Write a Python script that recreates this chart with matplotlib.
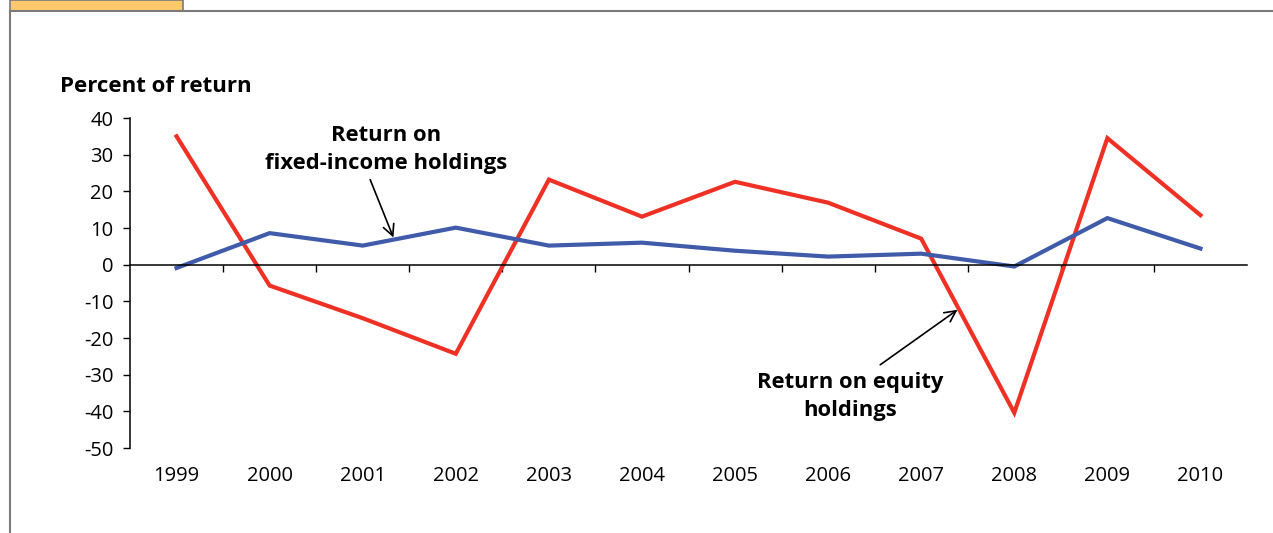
import matplotlib.pyplot as plt
import numpy as np
from matplotlib.patches import Rectangle
from matplotlib.lines import Line2D

plt.rcParams['font.family'] = ['Open Sans', 'DejaVu Sans']
plt.rcParams['axes.unicode_minus'] = False

years = ['1999', '2000', '2001', '2002', '2003', '2004',
         '2005', '2006', '2007', '2008', '2009', '2010']
equity = [35.0, -5.7, -14.6, -24.3, 23.2, 13.1, 22.6, 16.9, 7.1, -40.4, 34.5, 13.5]
fixed_income = [-0.9, 8.6, 5.2, 10.1, 5.2, 6.0, 3.8, 2.2, 3.0, -0.5, 12.7, 4.4]

W, H = 1273, 533
fig = plt.figure(figsize=(W / 100, H / 100), dpi=100)

# page frame and tab
fig.add_artist(Rectangle((10 / W, 1 - 11 / H), 173 / W, 11 / H, transform=fig.transFigure,
                         facecolor='#FFC96B', edgecolor='#7a7a7a', linewidth=1.2))
fig.add_artist(Line2D([10 / W, 1], [1 - 11 / H, 1 - 11 / H], transform=fig.transFigure,
                      color='#7a7a7a', linewidth=1.5))
fig.add_artist(Line2D([10 / W, 10 / W], [0, 1 - 11 / H], transform=fig.transFigure,
                      color='#7a7a7a', linewidth=1.5))

ax = fig.add_axes([130 / W, 1 - 448 / H, 1117 / W, 330 / H])
x = np.arange(len(years))
ax.plot(x, equity, color='#EE3124', linewidth=3.0, solid_joinstyle='miter')
ax.plot(x, fixed_income, color='#3F5BA9', linewidth=3.0, solid_joinstyle='miter')

ax.set_xlim(-0.5, len(years) - 0.5)
ax.set_ylim(-50, 40)
ax.set_yticks(np.arange(-50, 41, 10))
ax.tick_params(axis='y', direction='out', length=5, width=1, labelsize=14.5, pad=7)

for s in ['top', 'right']:
    ax.spines[s].set_visible(False)
ax.spines['left'].set_linewidth(1.1)
ax.spines['bottom'].set_position(('data', 0))
ax.spines['bottom'].set_linewidth(1.1)
ax.set_xticks(x)
ax.set_xticks(x[1:] - 0.5, minor=True)
ax.tick_params(axis='x', which='major', length=0, labelbottom=False)
ax.tick_params(axis='x', which='minor', direction='out', length=5, width=1)

sec = ax.secondary_xaxis('bottom')
sec.set_xticks(x, years)
sec.spines['bottom'].set_visible(False)
sec.tick_params(length=0, labelsize=14.5, pad=13)

fig.text(60 / W, 1 - 86 / H, 'Percent of return', fontsize=16, fontweight='bold',
         va='center', ha='left')

# callouts
arrow = dict(arrowstyle='->', color='black', lw=1.2, shrinkA=0, shrinkB=0, mutation_scale=20)
ax.text(2.25, 31.4, 'Return on\nfixed-income holdings', ha='center', va='center',
        fontsize=15.8, fontweight='bold', linespacing=1.4)
ax.annotate('', xy=(2.33, 7.4), xytext=(2.08, 23.2), arrowprops=arrow)
ax.text(7.24, -36.0, 'Return on equity\nholdings', ha='center', va='center',
        fontsize=15.8, fontweight='bold', linespacing=1.4)
ax.annotate('', xy=(8.39, -12.3), xytext=(7.56, -27.3), arrowprops=arrow)

fig.savefig('out.png', dpi=100)
